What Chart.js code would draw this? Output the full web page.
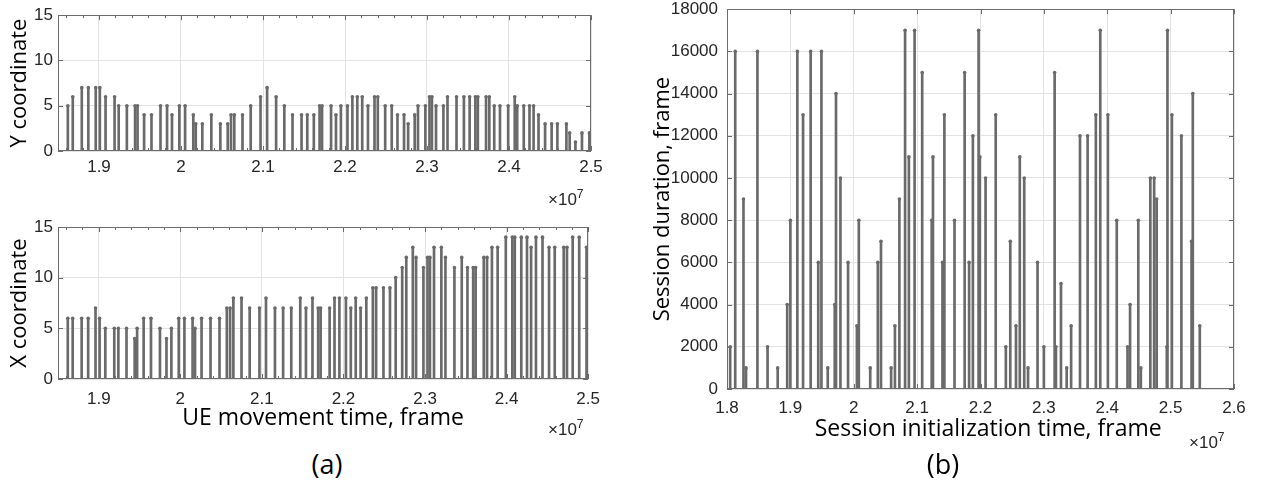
<!DOCTYPE html>
<html>
<head>
<meta charset="utf-8">
<script src="https://cdn.jsdelivr.net/npm/chart.js@4.4.1/dist/chart.umd.min.js"></script>
<style>
  body { margin: 0; background: #fff; width: 1270px; height: 484px; position: relative; overflow: hidden; }
  canvas { position: absolute; }
  .exp { position: absolute; font-family: "Liberation Sans", Arial, sans-serif; font-size: 17px; line-height: 17px; color: #262626; }
  .exp sup { font-size: 12px; }
  .cap { position: absolute; width: 100px; text-align: center; font-family: "Open Sans", sans-serif; font-size: 27px; line-height: 27px; color: #000; }
</style>
</head>
<body>
<canvas id="yChart" width="610" height="185" style="left:0;top:0"></canvas>
<canvas id="xChart" width="610" height="240" style="left:0;top:200px"></canvas>
<canvas id="sessChart" width="630" height="460" style="left:640px;top:-10px"></canvas>
<div class="exp" style="left:548px;top:186px">&times;10<sup>7</sup></div>
<div class="exp" style="left:548px;top:416px">&times;10<sup>7</sup></div>
<div class="exp" style="left:1189px;top:429px">&times;10<sup>7</sup></div>
<div class="cap" style="left:277px;top:450px">(a)</div>
<div class="cap" style="left:893px;top:450px">(b)</div>
<script>
// UE movement time (x10^7 frames) and the UE position at that time
const moveTime = [
  1.862, 1.868, 1.879, 1.887, 1.896, 1.901, 1.908, 1.919, 1.924, 1.934,
  1.944, 1.947, 1.955, 1.964, 1.975, 1.983, 1.989, 1.998, 2.005, 2.015,
  2.018, 2.026, 2.037, 2.048, 2.057, 2.061, 2.065, 2.075, 2.085, 2.097,
  2.105, 2.116, 2.126, 2.136, 2.147, 2.154, 2.162, 2.169, 2.172, 2.183,
  2.189, 2.195, 2.203, 2.209, 2.215, 2.221, 2.228, 2.236, 2.240, 2.249,
  2.257, 2.264, 2.272, 2.277, 2.285, 2.289, 2.298, 2.303, 2.306, 2.311,
  2.320, 2.325, 2.336, 2.345, 2.352, 2.359, 2.362, 2.372, 2.376, 2.382,
  2.389, 2.399, 2.407, 2.410, 2.418, 2.425, 2.430, 2.436, 2.444, 2.452,
  2.459, 2.470, 2.474, 2.481, 2.489, 2.498
];
const yCoord = [
  5, 6, 7, 7, 7, 7, 6, 6, 5, 5,
  5, 5, 4, 4, 5, 5, 4, 5, 5, 4,
  3, 3, 4, 3, 3, 4, 4, 4, 5, 6,
  7, 6, 5, 4, 4, 4, 4, 5, 5, 5,
  4, 5, 5, 6, 6, 6, 5, 6, 6, 5,
  5, 4, 4, 3, 4, 5, 5, 6, 6, 5,
  5, 6, 6, 6, 6, 6, 6, 6, 6, 5,
  5, 5, 6, 5, 5, 5, 5, 4, 3, 3,
  3, 3, 2, 1, 2, 2
];
const xCoord = [
  6, 6, 6, 6, 7, 6, 5, 5, 5, 5,
  4, 5, 6, 6, 5, 4, 5, 6, 6, 6,
  5, 6, 6, 6, 7, 7, 8, 8, 7, 7,
  8, 7, 7, 7, 8, 7, 8, 7, 7, 7,
  8, 8, 8, 7, 8, 7, 8, 9, 9, 9,
  9, 10, 11, 12, 13, 12, 11, 12, 12, 13,
  13, 12, 11, 12, 11, 11, 11, 12, 12, 13,
  13, 14, 14, 14, 14, 14, 13, 14, 14, 13,
  13, 13, 13, 14, 14, 13
];

// session initialization time (x10^7 frames) and session duration (frames)
const sessStart = [
  1.805, 1.813, 1.826, 1.830, 1.848, 1.864, 1.880, 1.895, 1.900, 1.911,
  1.920, 1.932, 1.944, 1.949, 1.959, 1.970, 1.972, 1.979, 1.991, 2.005,
  2.008, 2.026, 2.038, 2.043, 2.059, 2.065, 2.072, 2.081, 2.087, 2.096,
  2.108, 2.123, 2.125, 2.140, 2.143, 2.159, 2.175, 2.182, 2.188, 2.197,
  2.199, 2.208, 2.224, 2.240, 2.247, 2.256, 2.262, 2.269, 2.275, 2.290,
  2.300, 2.317, 2.319, 2.327, 2.336, 2.343, 2.357, 2.369, 2.382, 2.389,
  2.401, 2.415, 2.432, 2.436, 2.449, 2.453, 2.468, 2.474, 2.478, 2.494,
  2.495, 2.502, 2.517, 2.533, 2.535, 2.546
];
const sessDuration = [
  2000, 16000, 9000, 1000, 16000, 2000, 1000, 4000, 8000, 16000,
  13000, 16000, 6000, 16000, 1000, 4000, 14000, 10000, 6000, 3000,
  8000, 1000, 6000, 7000, 1000, 3000, 9000, 17000, 11000, 17000,
  15000, 8000, 11000, 6000, 13000, 8000, 15000, 6000, 12000, 17000,
  11000, 10000, 13000, 2000, 7000, 3000, 11000, 10000, 1000, 6000,
  2000, 15000, 2000, 5000, 1000, 3000, 12000, 12000, 13000, 17000,
  13000, 8000, 2000, 4000, 8000, 1000, 10000, 10000, 9000, 2000,
  17000, 13000, 12000, 7000, 14000, 3000
];

// tick values / labels
const moveTicks = [1.9, 2.0, 2.1, 2.2, 2.3, 2.4, 2.5];
const moveTickLabels = ['1.9', '2', '2.1', '2.2', '2.3', '2.4', '2.5'];
const coordTicks = [0, 5, 10, 15];
const sessTicks = [1.8, 1.9, 2.0, 2.1, 2.2, 2.3, 2.4, 2.5, 2.6];
const sessTickLabels = ['1.8', '1.9', '2', '2.1', '2.2', '2.3', '2.4', '2.5', '2.6'];
const durTicks = [0, 2000, 4000, 6000, 8000, 10000, 12000, 14000, 16000, 18000];

const stemColor = '#6a6a6a';
const gridColor = '#e3e3e3';
const axisColor = '#6b6b6b';
const tickColor = '#262626';

// minor ticks every 0.02 on the (a) time axis
const minorMove = [];
for (let k = 93; k <= 124; k++) {
  if (k % 5 !== 0) minorMove.push(k * 0.02);
}

// box around the plot area with inward ticks, like the original figure
const boxPlugin = {
  id: 'matlabBox',
  afterDatasetsDraw(chart, args, opts) {
    const { ctx, chartArea: a, scales: { x, y } } = chart;
    ctx.save();
    ctx.strokeStyle = axisColor;
    ctx.lineWidth = 1;
    ctx.beginPath();
    x.ticks.forEach(t => {
      const px = Math.round(x.getPixelForValue(t.value)) + 0.5;
      ctx.moveTo(px, a.bottom); ctx.lineTo(px, a.bottom - 5);
      ctx.moveTo(px, a.top); ctx.lineTo(px, a.top + 5);
    });
    (opts.minor || []).forEach(v => {
      const px = Math.round(x.getPixelForValue(v)) + 0.5;
      ctx.moveTo(px, a.bottom); ctx.lineTo(px, a.bottom - 3);
      ctx.moveTo(px, a.top); ctx.lineTo(px, a.top + 3);
    });
    y.ticks.forEach(t => {
      const py = Math.round(y.getPixelForValue(t.value)) + 0.5;
      ctx.moveTo(a.left, py); ctx.lineTo(a.left + 5, py);
      ctx.moveTo(a.right, py); ctx.lineTo(a.right - 5, py);
    });
    ctx.stroke();
    ctx.strokeRect(Math.round(a.left) + 0.5, Math.round(a.top) + 0.5,
      Math.round(a.width) - 1, Math.round(a.height) - 1);
    ctx.restore();
  }
};

function stemChart(id, cfg) {
  const pts = cfg.xs.map((v, i) => ({ x: v, y: cfg.ys[i] }));
  return new Chart(document.getElementById(id), {
    type: 'bar',
    data: {
      datasets: [
        { type: 'bar', data: pts, backgroundColor: stemColor, barThickness: 2, order: 2 },
        { type: 'line', data: pts, showLine: false, pointRadius: 1.8,
          pointBackgroundColor: stemColor, pointBorderWidth: 0, order: 1 }
      ]
    },
    options: {
      responsive: false,
      animation: false,
      events: [],
      layout: { padding: cfg.pad },
      plugins: {
        legend: { display: false },
        tooltip: { enabled: false },
        matlabBox: { minor: cfg.minor }
      },
      scales: {
        x: {
          type: 'linear',
          min: cfg.xMin, max: cfg.xMax,
          offset: false,
          afterBuildTicks: s => { s.ticks = cfg.xTicks.map(v => ({ value: v })); },
          afterFit: s => { s.height = cfg.xHeight; },
          grid: { color: gridColor, drawTicks: false, offset: false },
          border: { display: false },
          ticks: {
            padding: cfg.xPad, color: tickColor, maxRotation: 0, minRotation: 0, autoSkip: false,
            font: { family: 'Liberation Sans', size: cfg.tickSize },
            callback: (v, i) => cfg.xLabels[i]
          },
          title: cfg.xTitle ? {
            display: true, text: cfg.xTitle, color: '#000',
            font: { family: 'Open Sans', size: 23 },
            padding: { top: 0, bottom: cfg.xTitlePad }
          } : { display: false }
        },
        y: {
          min: cfg.yMin, max: cfg.yMax,
          afterBuildTicks: s => { s.ticks = cfg.yTicks.map(v => ({ value: v })); },
          afterFit: s => { s.width = cfg.yWidth; },
          grid: { color: gridColor, drawTicks: false },
          border: { display: false },
          ticks: {
            padding: cfg.yPad, color: tickColor,
            font: { family: 'Liberation Sans', size: cfg.tickSize },
            callback: v => String(v)
          },
          title: {
            display: true, text: cfg.yTitle, color: '#000',
            font: { family: 'Open Sans', size: 22 },
            padding: { top: cfg.yTitlePad, bottom: 0 }
          }
        }
      }
    },
    plugins: [boxPlugin]
  });
}

stemChart('yChart', {
  xs: moveTime, ys: yCoord, xMin: 1.85, xMax: 2.5, yMin: 0, yMax: 15,
  xTicks: moveTicks, xLabels: moveTickLabels, yTicks: coordTicks, minor: minorMove,
  pad: { left: 0, top: 11, right: 19, bottom: 0 },
  yWidth: 58, xHeight: 34, xPad: 6, yPad: 5, tickSize: 17,
  yTitle: 'Y coordinate', yTitlePad: 7
});

stemChart('xChart', {
  xs: moveTime, ys: xCoord, xMin: 1.85, xMax: 2.5, yMin: 0, yMax: 15,
  xTicks: moveTicks, xLabels: moveTickLabels, yTicks: coordTicks, minor: minorMove,
  pad: { left: 0, top: 27, right: 19, bottom: 0 },
  yWidth: 58, xHeight: 61, xPad: 10, yPad: 5, tickSize: 17,
  yTitle: 'X coordinate', yTitlePad: 7,
  xTitle: 'UE movement time, frame', xTitlePad: 8
});

stemChart('sessChart', {
  xs: sessStart, ys: sessDuration, xMin: 1.8, xMax: 2.6, yMin: 0, yMax: 18000,
  xTicks: sessTicks, xLabels: sessTickLabels, yTicks: durTicks, minor: [],
  pad: { left: 0, top: 17, right: 36, bottom: 0 },
  yWidth: 87, xHeight: 61, xPad: 9, yPad: 9, tickSize: 17,
  yTitle: 'Session duration, frame', yTitlePad: 10,
  xTitle: '\u2002\u2009Session initialization time, frame', xTitlePad: 7
});
</script>
</body>
</html>
